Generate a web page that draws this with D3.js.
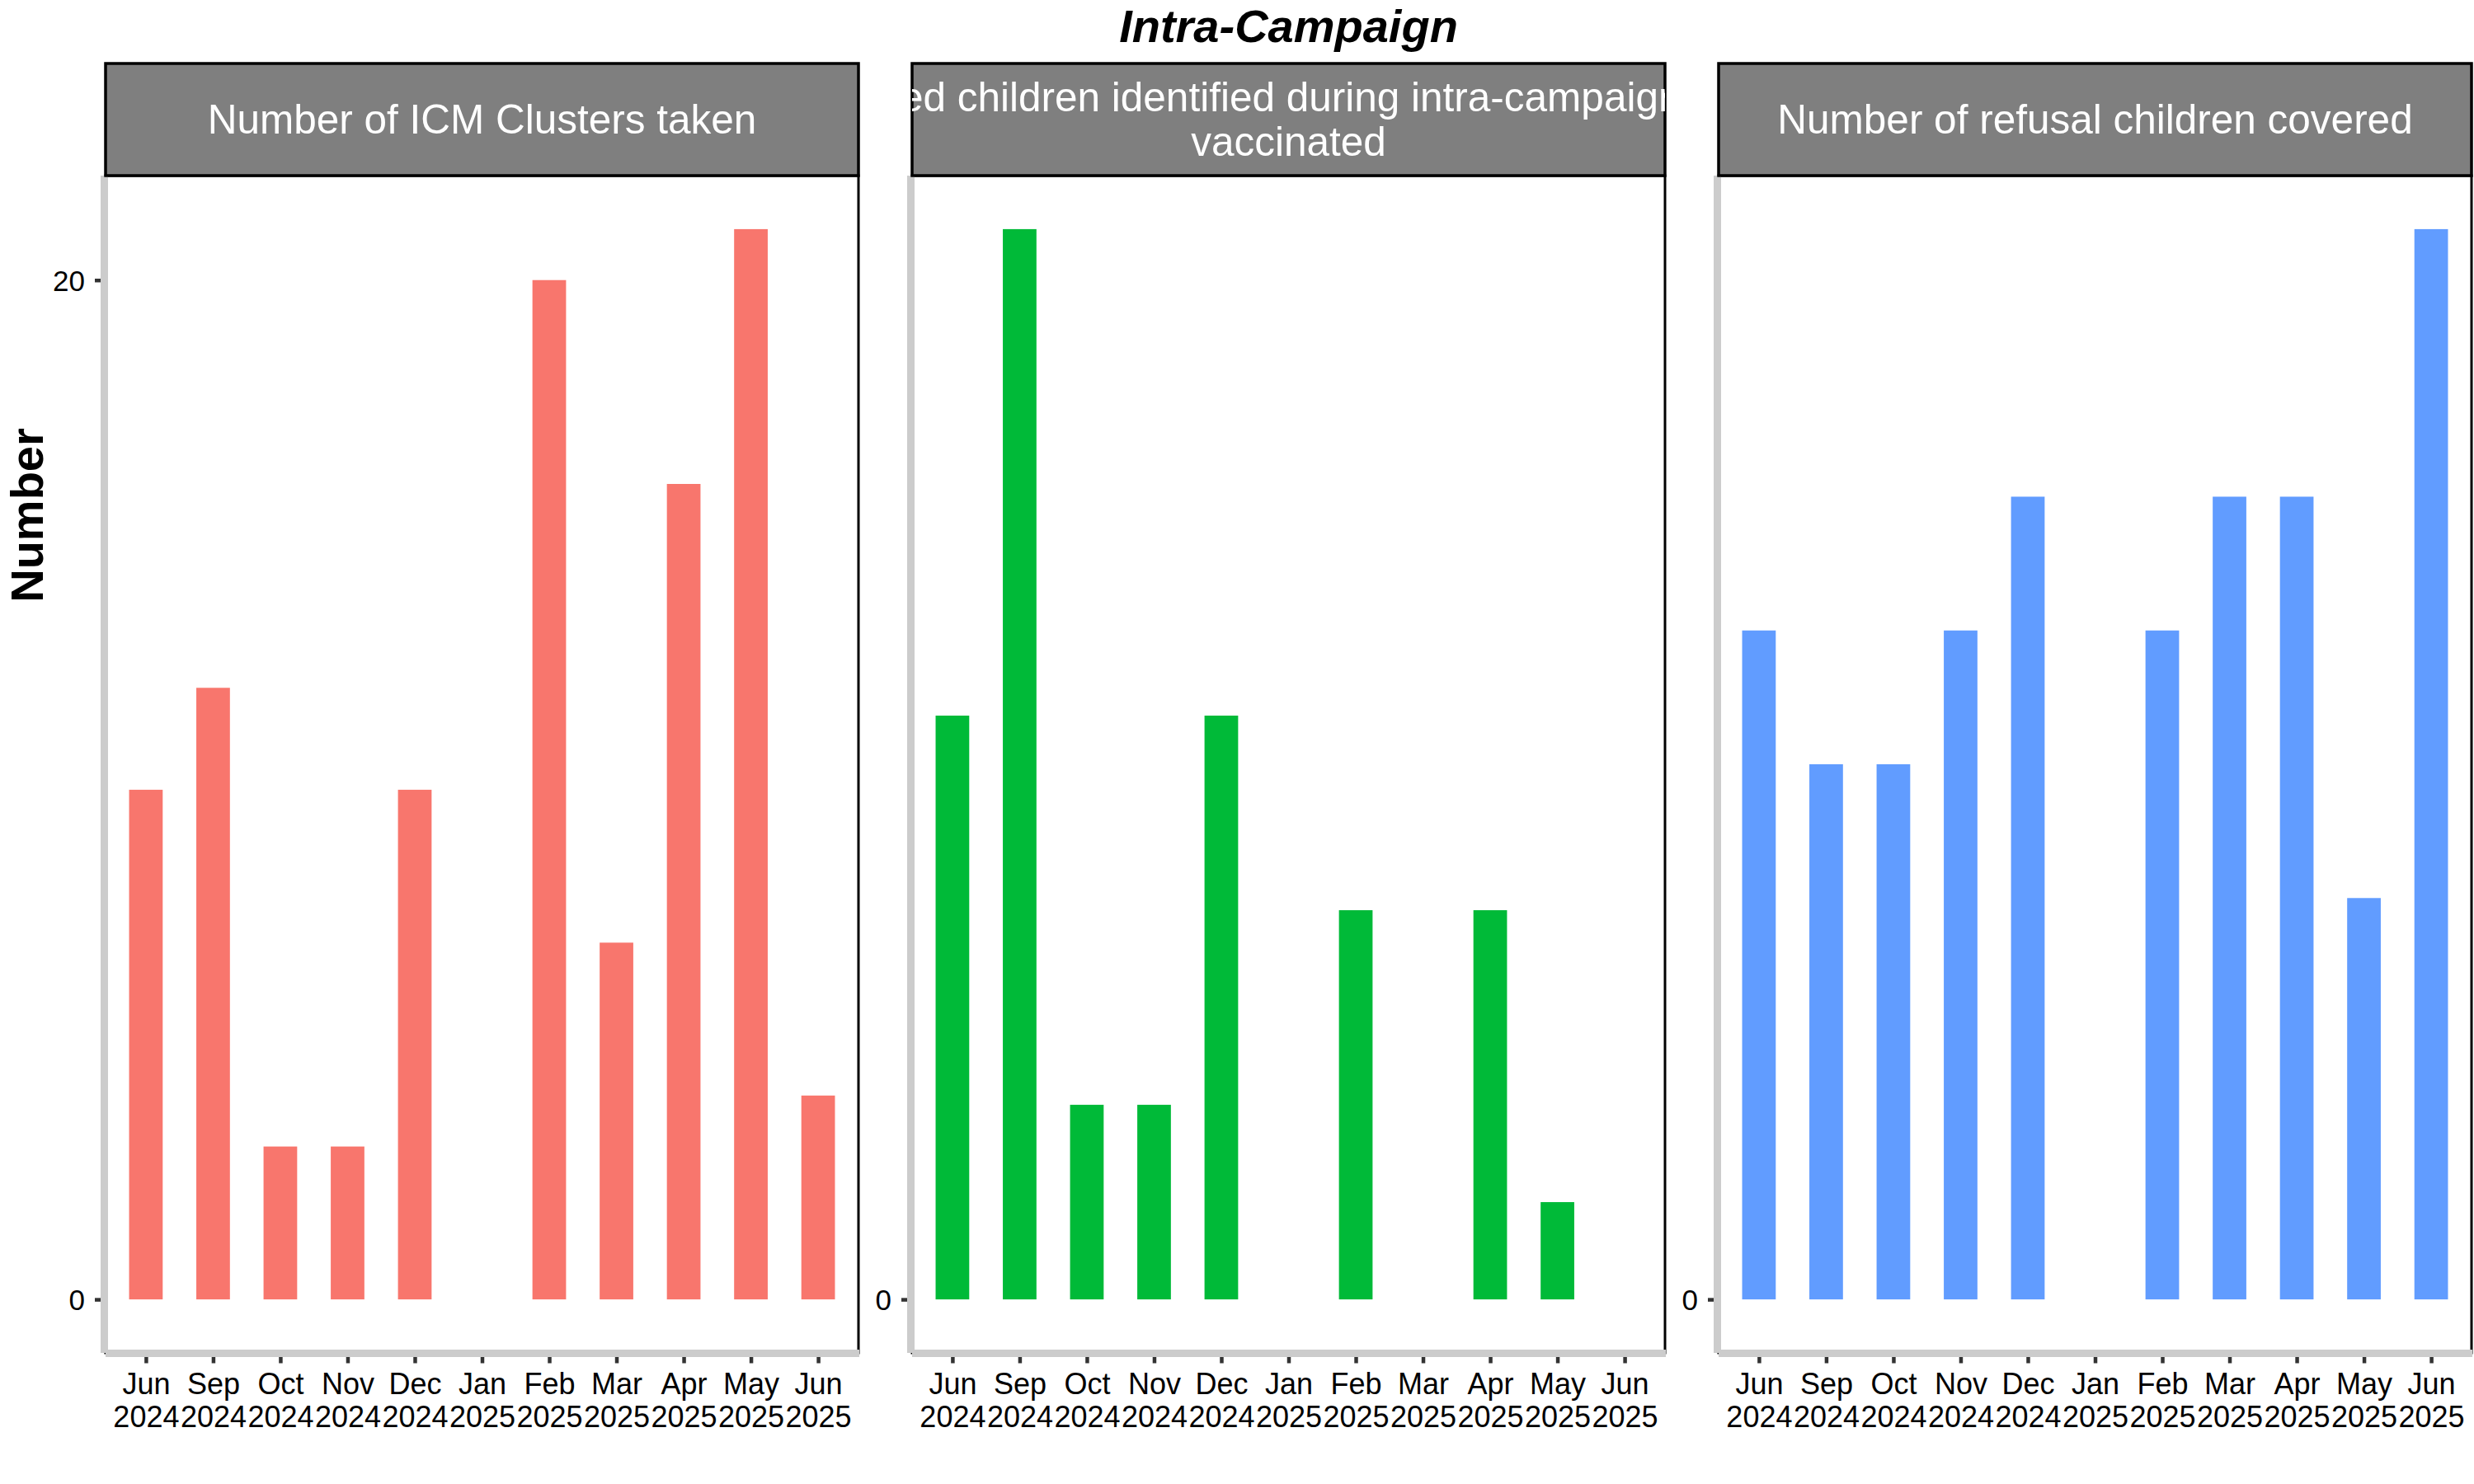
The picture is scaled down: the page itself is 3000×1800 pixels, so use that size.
<!DOCTYPE html>
<html>
<head>
<meta charset="utf-8">
<script src="https://cdn.jsdelivr.net/npm/d3@7"></script>
<style>
  html, body { margin: 0; padding: 0; background: #ffffff; }
  svg { display: block; font-family: "Liberation Sans", Arial, sans-serif; }
</style>
</head>
<body>
<script>
// ---- data ----
const months = ["Jun 2024","Sep 2024","Oct 2024","Nov 2024","Dec 2024","Jan 2025","Feb 2025","Mar 2025","Apr 2025","May 2025","Jun 2025"];
const panelTitles = [
  ["Number of ICM Clusters taken"],
  ["Missed children identified during intra-campaign and", "vaccinated"],
  ["Number of refusal children covered"]
];
const icmClusters      = [10, 12, 3, 3, 10, null, 20, 7, 16, 21, 4];
const missedVaccinated = [6, 11, 2, 2, 6, null, 4, null, 4, 1, null];
const refusalCovered   = [5, 4, 4, 5, 6, null, 5, 6, 6, 3, 8];
const seriesColors = ["#F8766D", "#00BA38", "#619CFF"];
const yBreaks = [0, 20, 40];
const chartTitle = "Intra-Campaign";
const yTitle = "Number";

const series = [icmClusters, missedVaccinated, refusalCovered];

// ---- layout ----
const W = 3000, H = 1800;
const panelW = 913, gap = 65, left0 = 128;
const stripTop = 77, panelTop = 213, panelBottom = 1641;

const svg = d3.select("body").append("svg").attr("width", W).attr("height", H);

svg.append("text")
  .attr("x", left0 + (3 * panelW + 2 * gap) / 2)
  .attr("y", 51)
  .attr("text-anchor", "middle")
  .style("font-size", "56px")
  .style("font-weight", "bold")
  .style("font-style", "italic")
  .text(chartTitle);

svg.append("text")
  .attr("transform", "translate(52,625) rotate(-90)")
  .attr("text-anchor", "middle")
  .style("font-size", "56px")
  .style("font-weight", "bold")
  .text(yTitle);

series.forEach((vals, i) => {
  const x0 = left0 + i * (panelW + gap);
  const x1 = x0 + panelW;
  const g = svg.append("g");

  const maxV = d3.max(vals.filter(v => v != null));
  const y = d3.scaleLinear()
    .domain([-0.05 * maxV, 1.05 * maxV])
    .range([panelBottom, panelTop]);
  const x = d3.scalePoint().domain(months).range([x0, x1]).padding(0.6);
  const bw = x.step() * 0.5;

  // panel border (black)
  g.append("rect")
    .attr("x", x0).attr("y", panelTop)
    .attr("width", panelW).attr("height", panelBottom - panelTop)
    .attr("fill", "#ffffff").attr("stroke", "#000000").attr("stroke-width", 3);

  // bars
  const data = months.map((m, k) => ({ m, v: vals[k] })).filter(d => d.v != null && d.v > 0);
  g.selectAll("rect.bar").data(data).enter().append("rect")
    .attr("class", "bar")
    .attr("x", d => x(d.m) - bw / 2)
    .attr("width", bw)
    .attr("y", d => y(d.v))
    .attr("height", d => y(0) - y(d.v))
    .attr("fill", seriesColors[i]);

  // y axis
  const ticksY = yBreaks.filter(b => b >= y.domain()[0] && b <= y.domain()[1]);
  const yAxis = d3.axisLeft(y).tickValues(ticksY).tickSize(12).tickPadding(12).tickFormat(d3.format("d"));
  const ya = g.append("g").attr("transform", `translate(${x0 - 1},0)`).call(yAxis);
  ya.select(".domain").remove();
  ya.selectAll(".tick line").attr("stroke", "#333333").attr("stroke-width", 4.5);
  ya.selectAll(".tick text").attr("fill", "#000000").style("font-size", "35px").attr("dy", "0.36em");

  // x axis
  const xAxis = d3.axisBottom(x).tickSize(12).tickPadding(0);
  const xa = g.append("g").attr("transform", `translate(0,${panelBottom + 0.5})`).call(xAxis);
  xa.select(".domain").remove();
  xa.selectAll(".tick line").attr("stroke", "#333333").attr("stroke-width", 4.5);
  xa.selectAll(".tick text").each(function(d) {
    const t = d3.select(this);
    t.text(null).attr("y", 0).attr("dy", null).attr("fill", "#000000").style("font-size", "36px");
    const parts = d.split(" ");
    t.append("tspan").attr("x", 0).attr("y", 49).text(parts[0]);
    t.append("tspan").attr("x", 0).attr("y", 89).text(parts[1]);
  });

  // grey axis lines (on top of border)
  g.append("line")
    .attr("x1", x0 - 1.5).attr("x2", x0 - 1.5)
    .attr("y1", panelTop).attr("y2", panelBottom)
    .attr("stroke", "#CCCCCC").attr("stroke-width", 9);
  g.append("line")
    .attr("x1", x0).attr("x2", x1 + 1)
    .attr("y1", panelBottom + 0.5).attr("y2", panelBottom + 0.5)
    .attr("stroke", "#CCCCCC").attr("stroke-width", 9);

  // strip
  const clipId = "clip" + i;
  svg.append("clipPath").attr("id", clipId).append("rect")
    .attr("x", x0).attr("y", stripTop).attr("width", panelW).attr("height", panelTop - stripTop);
  g.append("rect")
    .attr("x", x0).attr("y", stripTop)
    .attr("width", panelW).attr("height", panelTop - stripTop)
    .attr("fill", "#7F7F7F").attr("stroke", "#000000").attr("stroke-width", 3.5);
  const lines = panelTitles[i];
  const lh = 54;
  const cy = (stripTop + panelTop) / 2 + 17;
  const st = g.append("text")
    .attr("clip-path", `url(#${clipId})`)
    .attr("text-anchor", "middle")
    .attr("fill", "#ffffff")
    .style("font-size", "49.5px");
  lines.forEach((ln, k) => {
    st.append("tspan")
      .attr("x", (x0 + x1) / 2)
      .attr("y", cy + (k - (lines.length - 1) / 2) * lh)
      .text(ln);
  });
});
</script>
</body>
</html>
